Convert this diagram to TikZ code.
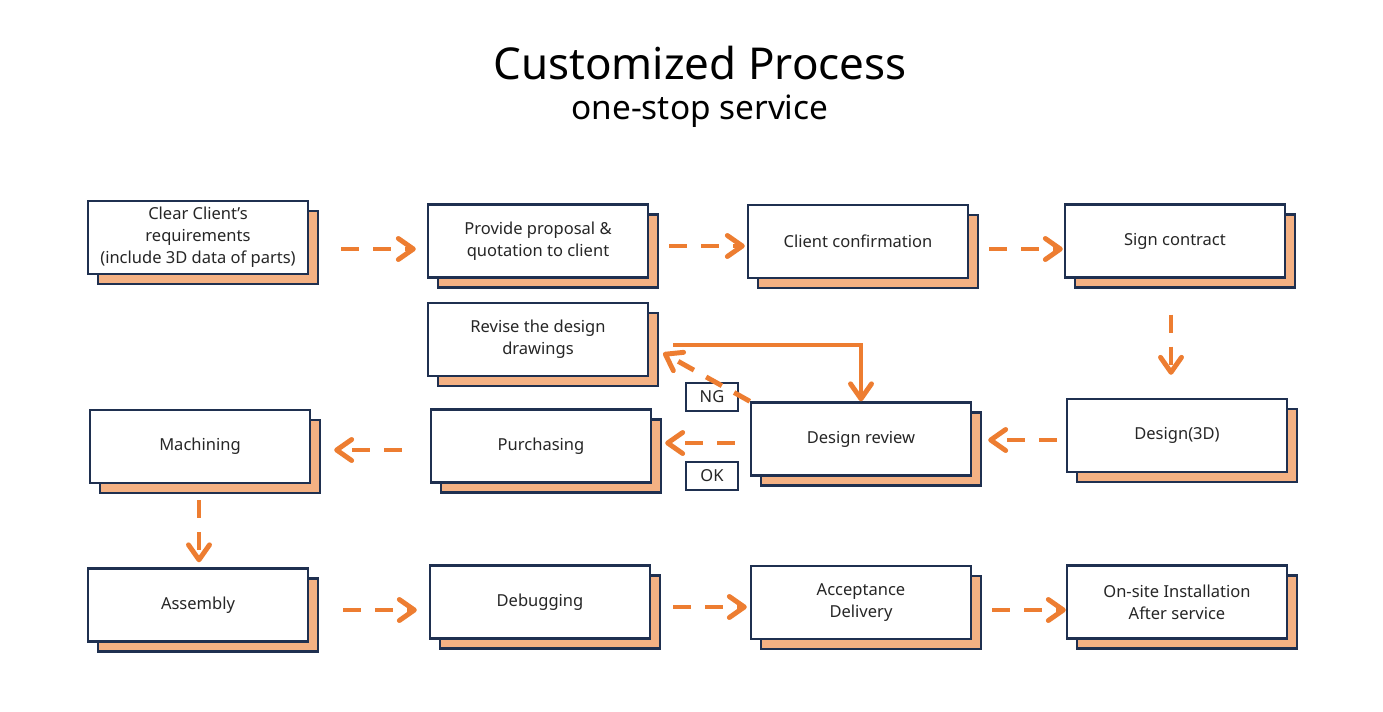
\documentclass[tikz,border=0pt]{standalone}
\usepackage{fontspec}
\setmainfont{Noto Sans}
\usetikzlibrary{arrows.meta,shadows}
\definecolor{navy}{HTML}{1F3050}
\definecolor{orng}{HTML}{ED7D31}
\definecolor{peach}{HTML}{F4B183}
\definecolor{ink}{HTML}{262626}
\tikzset{
  stepbox/.style={draw=navy,line width=1.4pt,fill=white,minimum width=4.4cm,
    minimum height=1.46cm,align=center,text=ink,font=\fontsize{9.4}{12.5}\selectfont,
    copy shadow={shadow xshift=0.2cm,shadow yshift=-0.2cm,fill=peach,draw=navy,line width=1.4pt}},
  tagbox/.style={draw=navy,line width=1.2pt,fill=white,minimum width=1.04cm,
    minimum height=0.56cm,inner sep=0pt,text=ink,font=\fontsize{9.4}{11}\selectfont},
  flow/.style={orng,line width=2.8pt,dash pattern=on 0.36cm off 0.28cm,
    -{Straight Barb[length=0.3cm,width=0.42cm,round]}},
  backline/.style={orng,line width=2.8pt,-{Straight Barb[length=0.3cm,width=0.42cm,round]}}
}
\begin{document}
\begin{tikzpicture}[x=0.02cm,y=-0.02cm]
  \fill[white] (0,0) rectangle (1383,711);
  \node[text=black] (title) at (700,63) {\fontsize{25}{30}\selectfont Customized Process};
  \node[text=black] (subtitle) at (700,111) {\fontsize{19}{22}\selectfont one-stop service};
  % process steps
  \node[stepbox] (clear) at (198,237.5) {Clear Client's\\requirements\\(include 3D data of parts)};
  \node[stepbox] (proposal) at (538,241) {Provide proposal \&\\quotation to client};
  \node[stepbox] (confirm) at (858,241.5) {Client confirmation};
  \node[stepbox] (contract) at (1175,241) {Sign contract};
  \node[stepbox] (revise) at (538,339.5) {Revise the design\\drawings};
  \node[stepbox] (review) at (861,439) {Design review};
  \node[stepbox] (design) at (1177,435.5) {Design(3D)};
  \node[stepbox] (purchasing) at (541,446) {Purchasing};
  \node[stepbox] (machining) at (200,446.5) {Machining};
  \node[stepbox] (assembly) at (198,605) {Assembly};
  \node[stepbox] (debugging) at (540,602) {Debugging};
  \node[stepbox] (acceptance) at (861,602.5) {Acceptance\\Delivery};
  \node[stepbox] (onsite) at (1177,602) {On-site Installation\\After service};
  \node[tagbox] (ng) at (712,397) {NG};
  \node[tagbox] (ok) at (712,476) {OK};
  % arrows to the right: from/to/y/start gap/end gap
  \foreach \a/\b/\y/\s/\e in
    {clear/proposal/249/0.64/0.22, proposal/confirm/246/0.4/0.04,
     confirm/contract/249/0.4/0.02, assembly/debugging/610/0.68/0.24,
     debugging/acceptance/607/0.44/0.06, acceptance/onsite/610/0.4/0}
    \draw[flow,shorten <=\s cm,shorten >=\e cm]
      (\a.east |- 0,\y) -- (\b.west |- 0,\y);
  % arrows to the left
  \foreach \a/\b/\y/\s/\e in
    {design/review/440/0.18/0.32, review/purchasing/443/0.3/0.26,
     purchasing/machining/450/0.56/0.46}
    \draw[flow,shorten <=\s cm,shorten >=\e cm]
      (\a.west |- 0,\y) -- (\b.east |- 0,\y);
  \draw[flow,shorten <=0.72cm,shorten >=0.46cm]
    (contract.south -| 1171,0) -- (design.north -| 1171,0);
  \draw[flow,shorten <=0.32cm,shorten >=0.1cm]
    (machining.south -| 199,0) -- (assembly.north -| 199,0);
  % review loop
  \draw[flow] (review.north west) -- ([xshift=0.28cm]revise.east |- 0,353);
  \draw[backline] ([xshift=0.48cm]revise.east |- 0,345) -| (review.north);
\end{tikzpicture}
\end{document}
